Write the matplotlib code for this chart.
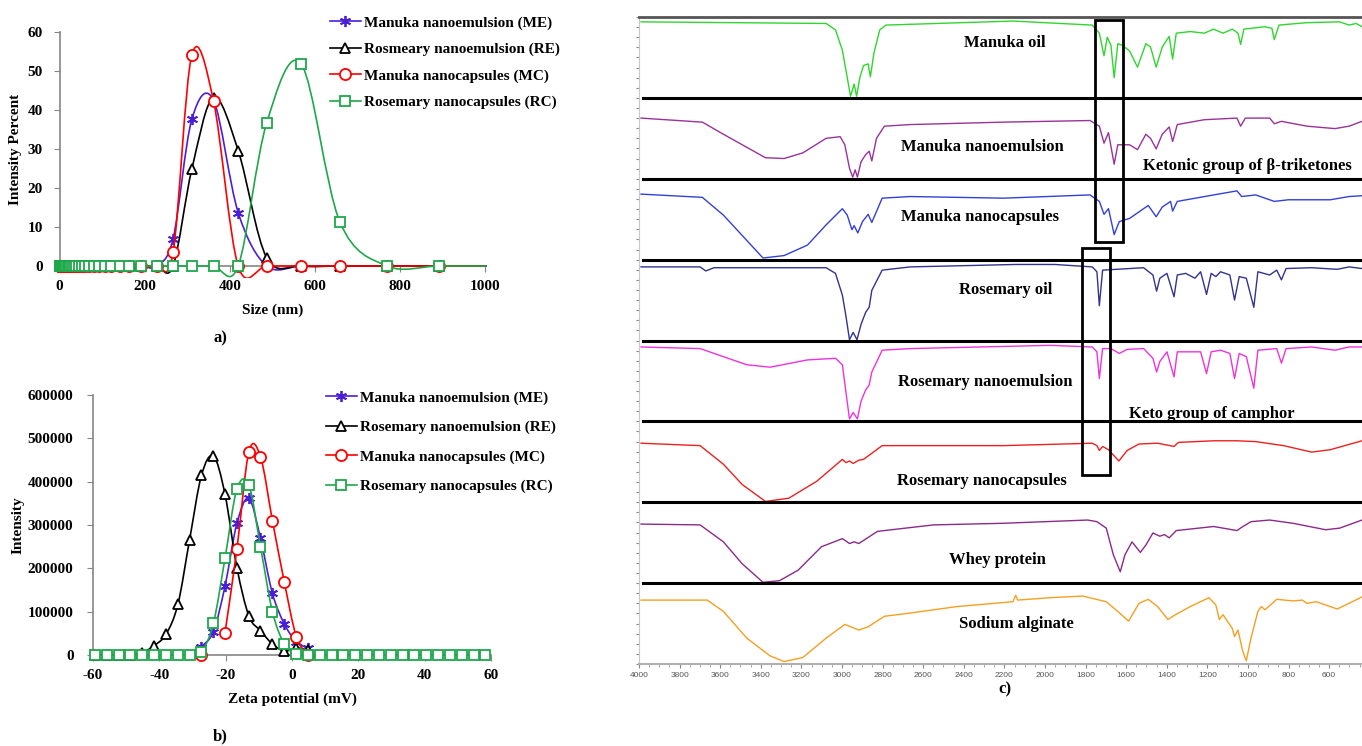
import numpy as np
import matplotlib
matplotlib.use("Agg")
import matplotlib.pyplot as plt
from matplotlib.path import Path
from matplotlib.patches import PathPatch, Rectangle
from matplotlib.lines import Line2D
from matplotlib.transforms import Bbox, TransformedBbox

plt.rcParams['font.family'] = ['Liberation Serif', 'DejaVu Serif']
plt.rcParams['font.weight'] = 'bold'
plt.rcParams['axes.unicode_minus'] = False

# ---------------- a) particle size ----------------
size_nm = [0.4, 0.5, 0.6, 0.7, 0.8, 0.9, 1.1, 1.3, 1.5, 1.7, 2.0, 2.3, 2.7, 3.1, 3.6,
           4.2, 4.8, 5.6, 6.5, 7.5, 8.7, 10, 12, 14, 16, 19, 22, 25, 29, 34, 39, 45,
           52, 60, 69, 80, 92, 106, 122, 142, 164, 192, 228, 267, 311, 362, 420, 487,
           568, 659, 770, 893, 1040]
n_zero = 43  # bins below 228 nm are all zero
me_size = [0] * n_zero + [7.0, 37.6, 42.5, 13.7, 0, 0, 0, 0, 0, 0]
re_size = [0] * n_zero + [0, 24.8, 43.2, 29.6, 2.1, 0, 0, 0, 0, 0]
mc_size = [0] * n_zero + [3.5, 54.1, 42.3, 0, 0, 0, 0, 0, 0, 0]
rc_size = [0] * n_zero + [0, 0, 0, 0, 36.7, 51.8, 11.3, 0, 0, 0]

# ---------------- b) zeta potential ----------------
zeta_mv = [-59.4, -55.8, -52.3, -48.7, -45.1, -41.6, -38.0, -34.4, -30.9, -27.3,
           -23.7, -20.2, -16.6, -13.0, -9.5, -5.9, -2.3, 1.3, 4.8, 8.4, 12.0, 15.5,
           19.1, 22.7, 26.2, 29.8, 33.4, 36.9, 40.5, 44.1, 47.6, 51.2, 54.8, 58.3]
nan = np.nan
me_zeta = [nan] * 9 + [19000, 54000, 159000, 304000, 361500, 269000, 142000, 71500,
                       31000, 15400] + [nan] * 15
re_zeta = [0, 0, 0, 0, 5400, 21500, 47700, 117000, 265000, 414600, 459000, 370800,
           201500, 90000, 56000, 25400, 9200, 16000, 11500] + [nan] * 15
mc_zeta = [nan] * 9 + [0, nan, 51500, 245000, 469000, 457700, 310000, 167700,
                       42300, 0] + [nan] * 15
rc_zeta = [0] * 9 + [7700, 73000, 223000, 383000, 392000, 250000, 100000, 25400,
                     2300] + [0] * 16

# ---------------- c) FTIR spectra (wavenumber, relative transmittance %) ----------------
manuka_oil = [(3990, 94), (3078, 92), (3032, 84), (2998, 59), (2974, 25), (2958, 2),
              (2940, 17), (2928, 2), (2912, 25), (2894, 40), (2871, 42), (2860, 26),
              (2843, 55), (2814, 84), (2784, 90), (2158, 95), (1767, 90), (1732, 80),
              (1709, 52), (1693, 75), (1675, 65), (1659, 25), (1641, 67), (1618, 65),
              (1583, 58), (1544, 38), (1503, 67), (1480, 63), (1452, 38), (1422, 63),
              (1388, 76), (1371, 48), (1353, 80), (1284, 82), (1215, 80), (1169, 85),
              (1123, 80), (1077, 85), (1049, 80), (1036, 66), (1020, 85), (916, 88),
              (882, 86), (870, 72), (847, 90), (709, 93), (548, 94), (502, 90),
              (467, 92), (438, 88)]
manuka_ne = [(3990, 75), (3688, 70), (3584, 55), (3377, 26), (3285, 25), (3193, 32),
             (3078, 50), (3009, 52), (2986, 42), (2963, 13), (2947, 2), (2935, 11),
             (2924, 2), (2906, 21), (2883, 30), (2866, 34), (2853, 22), (2830, 50),
             (2791, 65), (2664, 67), (2204, 70), (1778, 72), (1732, 65), (1709, 44),
             (1687, 57), (1659, 18), (1641, 42), (1583, 42), (1544, 36), (1503, 55),
             (1480, 50), (1452, 37), (1422, 55), (1388, 64), (1371, 46), (1348, 67),
             (1215, 73), (1054, 75), (1036, 65), (1013, 75), (893, 75), (870, 68),
             (835, 71), (709, 65), (571, 62), (502, 65), (438, 71)]
manuka_nc = [(3990, 81), (3688, 77), (3584, 55), (3492, 30), (3389, 2), (3285, 5),
             (3170, 18), (3078, 43), (2998, 63), (2974, 55), (2951, 37), (2940, 42),
             (2922, 33), (2899, 47), (2871, 56), (2853, 46), (2802, 76), (2664, 78),
             (2204, 76), (1778, 80), (1732, 72), (1709, 56), (1687, 63), (1659, 31),
             (1634, 47), (1583, 51), (1537, 59), (1491, 67), (1452, 53), (1422, 65),
             (1381, 72), (1371, 60), (1348, 72), (1169, 80), (1054, 85), (1031, 78),
             (962, 80), (870, 72), (801, 74), (594, 74), (502, 78), (438, 79)]
rosemary_oil = [(3990, 91), (3699, 91), (3671, 86), (3630, 90), (3078, 90), (3032, 83),
                (2998, 56), (2981, 31), (2963, 1), (2945, 10), (2926, 1), (2906, 20),
                (2883, 35), (2866, 41), (2853, 62), (2802, 87), (2664, 91), (2147, 94),
                (1951, 94), (1767, 91), (1744, 85), (1732, 43), (1716, 87), (1514, 90),
                (1468, 81), (1450, 61), (1434, 77), (1399, 83), (1364, 54), (1348, 81),
                (1307, 83), (1261, 77), (1233, 85), (1204, 57), (1181, 83), (1158, 79),
                (1135, 85), (1089, 81), (1066, 50), (1043, 79), (1008, 77), (971, 41),
                (951, 85), (893, 81), (858, 87), (835, 75), (812, 89), (686, 90),
                (560, 88), (502, 91), (438, 89)]
rosemary_ne = [(3990, 92), (3699, 90), (3469, 70), (3354, 67), (3170, 76), (3032, 78),
               (2998, 70), (2981, 37), (2963, 3), (2945, 11), (2924, 3), (2906, 25),
               (2883, 39), (2866, 45), (2853, 61), (2802, 88), (2664, 90), (1974, 94),
               (1767, 92), (1744, 86), (1732, 53), (1716, 90), (1675, 90), (1634, 84),
               (1595, 89), (1514, 90), (1468, 78), (1450, 61), (1434, 74), (1399, 86),
               (1364, 55), (1348, 86), (1284, 86), (1233, 86), (1204, 59), (1181, 86),
               (1135, 88), (1089, 84), (1066, 53), (1043, 84), (1008, 80), (971, 41),
               (951, 88), (858, 90), (835, 72), (812, 90), (686, 92), (571, 88),
               (502, 92), (438, 92)]
rosemary_nc = [(3990, 73), (3699, 70), (3584, 47), (3492, 22), (3377, 1), (3262, 5),
               (3124, 26), (2998, 53), (2981, 49), (2963, 51), (2945, 48), (2917, 52),
               (2894, 53), (2802, 70), (2204, 70), (1767, 73), (1744, 70), (1732, 64),
               (1716, 69), (1687, 65), (1636, 51), (1595, 64), (1537, 72), (1445, 73),
               (1364, 69), (1342, 74), (1169, 76), (1054, 76), (962, 75), (824, 70),
               (686, 62), (594, 65), (438, 76)]
whey_protein = [(3990, 73), (3699, 72), (3584, 51), (3492, 24), (3389, 1), (3308, 3),
                (3216, 16), (3101, 45), (2998, 55), (2963, 49), (2940, 51), (2917, 49),
                (2825, 64), (2549, 72), (2204, 74), (1790, 78), (1744, 76), (1698, 68),
                (1663, 35), (1629, 14), (1606, 35), (1571, 51), (1530, 38), (1503, 47),
                (1468, 62), (1434, 58), (1411, 60), (1388, 56), (1353, 65), (1169, 70),
                (1077, 66), (1054, 65), (1031, 69), (985, 76), (893, 78), (778, 74),
                (617, 66), (548, 68), (438, 78)]
sodium_alginate = [(3990, 79), (3664, 79), (3584, 65), (3469, 32), (3354, 10), (3285, 3),
                   (3193, 8), (3078, 32), (2986, 49), (2917, 42), (2871, 46), (2791, 59),
                   (2664, 63), (2434, 71), (2158, 77), (2144, 85), (2135, 79), (1974, 82),
                   (1813, 84), (1698, 77), (1641, 65), (1588, 53), (1537, 75), (1491, 80),
                   (1445, 71), (1394, 55), (1364, 60), (1284, 71), (1192, 82), (1158, 73),
                   (1141, 55), (1123, 61), (1077, 44), (1066, 34), (1049, 42), (1026, 16),
                   (1008, 4), (985, 32), (951, 65), (934, 71), (916, 67), (858, 80),
                   (778, 78), (732, 79), (709, 75), (663, 77), (594, 71), (560, 68),
                   (502, 75), (438, 83)]

spectra = [manuka_oil, manuka_ne, manuka_nc, rosemary_oil, rosemary_ne, rosemary_nc,
           whey_protein, sodium_alginate]
spectra_names = ["Manuka oil", "Manuka nanoemulsion", "Manuka nanocapsules", "Rosemary oil",
                 "Rosemary nanoemulsion", "Rosemary nanocapsules", "Whey protein",
                 "Sodium alginate"]
spectra_colors = ['#2fd62f', '#993399', '#3340d8', '#33338f', '#ee33dd', '#ee2020',
                  '#8a2a8a', '#f5a020']

C_ME, C_RE, C_MC, C_RC = '#4a1fd8', 'black', '#ff0000', '#1ea84a'
GREY = '#868686'

W, H = 1362, 746
fig = plt.figure(figsize=(W / 100, H / 100), dpi=100)


def px_axes(left, top, right, bottom):
    return fig.add_axes([left / W, 1 - bottom / H, (right - left) / W, (bottom - top) / H])


def smooth_path(x, y):
    # Excel style smoothed line (Catmull-Rom through the points), broken at NaN
    x = np.asarray(x, float)
    y = np.asarray(y, float)
    verts, codes = [], []
    idx = np.where(~np.isnan(y))[0]
    runs = np.split(idx, np.where(np.diff(idx) > 1)[0] + 1)
    for r in runs:
        if len(r) < 2:
            continue
        pts = np.column_stack([x[r], y[r]])
        verts.append(pts[0]); codes.append(Path.MOVETO)
        for i in range(len(pts) - 1):
            p0 = pts[i - 1] if i > 0 else pts[i]
            p1, p2 = pts[i], pts[i + 1]
            p3 = pts[i + 2] if i + 2 < len(pts) else pts[i + 1]
            verts += [p1 + (p2 - p0) / 6, p2 - (p3 - p1) / 6, p2]
            codes += [Path.CURVE4] * 3
    return Path(verts, codes)


def style_xy_axes(ax, ypad):
    for s in ['top', 'right']:
        ax.spines[s].set_visible(False)
    for s in ['left', 'bottom']:
        ax.spines[s].set_color(GREY)
        ax.spines[s].set_linewidth(1.2)
    ax.tick_params(direction='out', length=4, color=GREY, labelsize=11)
    ax.tick_params(axis='x', pad=6)
    ax.tick_params(axis='y', pad=ypad)
    for lab in ax.get_xticklabels() + ax.get_yticklabels():
        lab.set_fontweight('bold')


series_style = [
    (C_ME, dict(marker=(6, 2, 0), ms=8, mfc=C_ME)),
    (C_RE, dict(marker='^', ms=7.5, mfc='white')),
    (C_MC, dict(marker='o', ms=8, mfc='white')),
    (C_RC, dict(marker='s', ms=7.5, mfc='white')),
]


def draw_series(ax, x, ys, clipbox):
    cb = TransformedBbox(clipbox, ax.transData)
    for k, (y, (col, st)) in enumerate(zip(ys, series_style)):
        patch = PathPatch(smooth_path(x, y), fc='none', ec=col, lw=1.2, zorder=3 + k)
        ax.add_patch(patch)
        patch.set_clip_box(cb)
        mk, = ax.plot(x, y, ls='none', color=col, mec=col, mew=1.3,
                      zorder=3 + k, **st)
        mk.set_clip_box(cb)


def make_legend(ax, labels, x0, y0, spacing):
    handles = [Line2D([], [], color=col, lw=1.2, mec=col, mew=1.3, **st)
               for col, st in series_style]
    ax.legend(handles, labels, loc='upper left', bbox_to_anchor=(x0 / W, 1 - y0 / H),
              bbox_transform=fig.transFigure, frameon=False, borderpad=0, borderaxespad=0,
              handlelength=2.0, handletextpad=0.25, labelspacing=spacing,
              prop=dict(family='Liberation Serif', weight='bold', size=11))


# ---- panel a ----
ax_a = px_axes(59.5, 32, 485, 266)
draw_series(ax_a, size_nm, [me_size, re_size, mc_size, rc_size],
            Bbox([[-20, -3], [1005, 63]]))
ax_a.set_xlim(0, 1000)
ax_a.set_ylim(0, 60)
ax_a.set_xticks(range(0, 1001, 200))
ax_a.set_yticks(range(0, 61, 10))
style_xy_axes(ax_a, 8)
ax_a.set_xlabel('Size (nm)', fontsize=11, fontweight='bold', labelpad=8)
ax_a.set_ylabel('Intensity Percent', fontsize=11, fontweight='bold', labelpad=4)
make_legend(ax_a, ['Manuka nanoemulsion (ME)', 'Rosmeary nanoemulsion (RE)',
                   'Manuka nanocapsules (MC)', 'Rosemary nanocapsules (RC)'], 330, 16, 0.82)
fig.text(220 / W, 1 - 338 / H, 'a)', ha='center', va='center', fontsize=12, fontweight='bold')

# ---- panel b ----
ax_b = px_axes(93, 395, 491, 655)
draw_series(ax_b, zeta_mv, [me_zeta, re_zeta, mc_zeta, rc_zeta],
            Bbox([[-62, -20000], [62, 620000]]))
ax_b.set_xlim(-60, 60)
ax_b.set_ylim(0, 600000)
ax_b.set_xticks(range(-60, 61, 20))
ax_b.set_yticks(range(0, 600001, 100000))
style_xy_axes(ax_b, 10)
ax_b.set_xlabel('Zeta potential (mV)', fontsize=11, fontweight='bold', labelpad=8)
ax_b.set_ylabel('Intensity', fontsize=11, fontweight='bold', labelpad=2)
make_legend(ax_b, ['Manuka nanoemulsion (ME)', 'Rosemary nanoemulsion (RE)',
                   'Manuka nanocapsules (MC)', 'Rosemary nanocapsules (RC)'], 326, 391, 1.02)
fig.text(220 / W, 1 - 736 / H, 'b)', ha='center', va='center', fontsize=12, fontweight='bold')

# ---- panel c ----
ax_c = px_axes(639, 17, 1362, 664)
for i, (spec, col) in enumerate(zip(spectra, spectra_colors)):
    wn = [p[0] for p in spec]
    t = [7 - i + p[1] / 100 for p in spec]
    ax_c.plot(wn, t, color=col, lw=1.0, zorder=2)
for yy in range(1, 8):
    ax_c.axhline(yy, xmin=0.005, xmax=1, color='black', lw=2.2, zorder=3)
ax_c.add_patch(Rectangle((1754, 5.22), 1616 - 1754, 7.96 - 5.22, fill=False,
                         ec='black', lw=2, zorder=4))
ax_c.add_patch(Rectangle((1818, 2.34), 1680 - 1818, 5.14 - 2.34, fill=False,
                         ec='black', lw=2, zorder=4))
label_pos = [(2197, 7.68), (2310, 6.39), (2320, 5.53), (2192, 4.63), (2296, 3.49),
             (2310, 2.26), (2232, 1.29), (2143, 0.50)]
for name, (xx, yy) in zip(spectra_names, label_pos):
    ax_c.text(xx, yy, name, ha='center', va='center', fontsize=12, fontweight='bold', zorder=5)
ax_c.text(1005, 6.16, 'Ketonic group of β-triketones', ha='center', va='center',
          fontsize=12, fontweight='bold', zorder=5)
ax_c.text(1177, 3.09, 'Keto group of camphor', ha='center', va='center',
          fontsize=12, fontweight='bold', zorder=5)
ax_c.set_xlim(4000, 438)
ax_c.set_ylim(0, 8)
ax_c.set_xticks(range(4000, 439, -200))
ax_c.set_xticks(range(4000, 439, -50), minor=True)
ax_c.set_yticks(np.arange(0, 8.01, 0.125))
ax_c.set_yticklabels([])
ax_c.spines['right'].set_visible(False)
ax_c.spines['top'].set_color('#555555')
ax_c.spines['top'].set_linewidth(2)
ax_c.spines['left'].set_color('#c8c8c8')
ax_c.spines['bottom'].set_color('#b0b0b0')
ax_c.spines['bottom'].set_linewidth(1.5)
ax_c.tick_params(axis='y', length=2, color='#888888', direction='out')
ax_c.tick_params(axis='x', which='major', length=3, color='#888888', direction='out',
                 labelsize=6, labelcolor='#555555', pad=3)
ax_c.tick_params(axis='x', which='minor', length=2, color='#999999', direction='out')
for lab in ax_c.get_xticklabels():
    lab.set_fontfamily('Liberation Sans')
    lab.set_fontweight('normal')
fig.text(1005 / W, 1 - 689 / H, 'c)', ha='center', va='center', fontsize=12, fontweight='bold')

fig.savefig('out.png', dpi=100)
